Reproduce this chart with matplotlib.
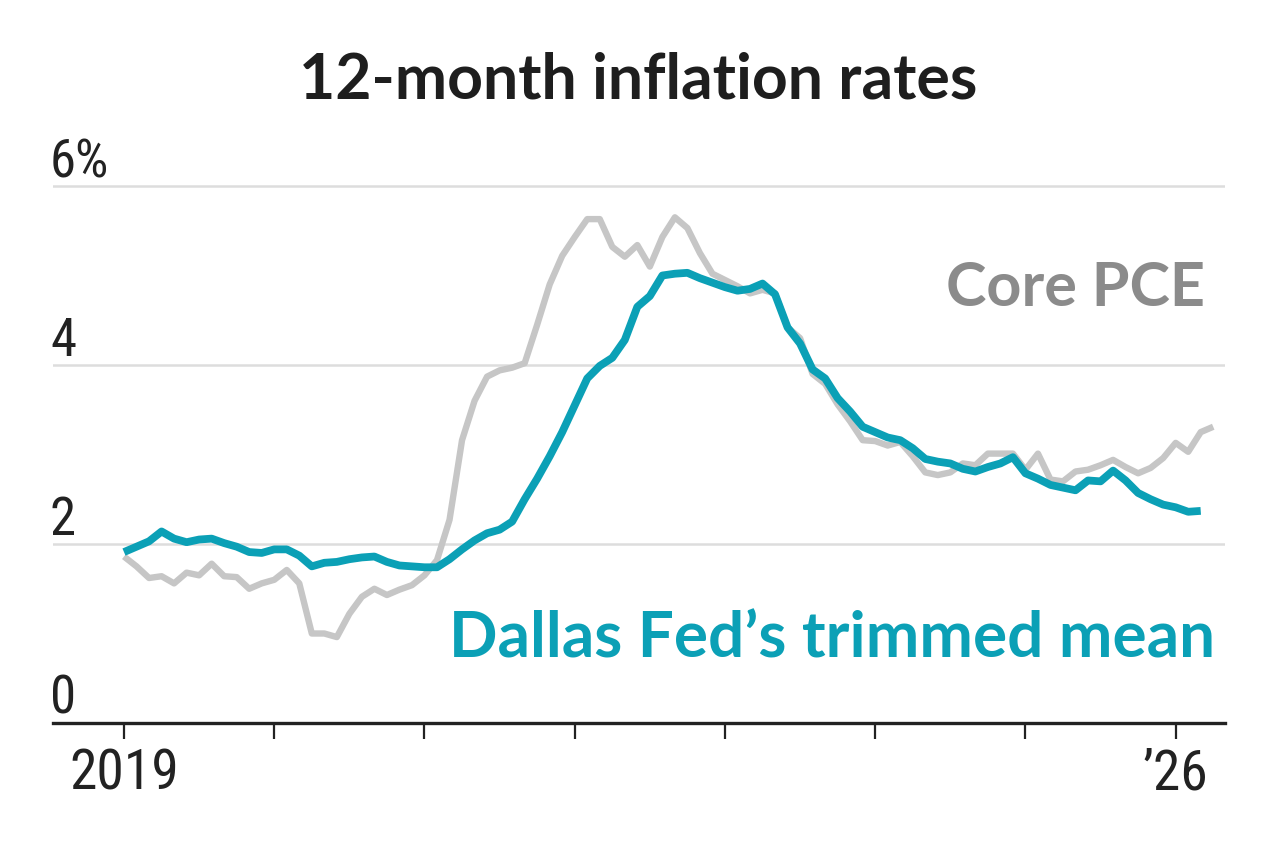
import matplotlib
matplotlib.use('Agg')
import matplotlib.pyplot as plt
from matplotlib import font_manager as fm
from matplotlib.transforms import blended_transform_factory, ScaledTranslation

# ---------------- data (monthly, Jan 2019 onward) ----------------
core_pce = [1.86, 1.75, 1.62, 1.64, 1.56, 1.68, 1.65, 1.78, 1.64, 1.63, 1.50, 1.56,
            1.60, 1.71, 1.56, 1.00, 1.00, 0.96, 1.22, 1.41, 1.50, 1.43, 1.49, 1.54,
            1.65, 1.82, 2.27, 3.16, 3.60, 3.87, 3.94, 3.97, 4.02, 4.45, 4.90, 5.22,
            5.43, 5.63, 5.63, 5.32, 5.21, 5.34, 5.10, 5.43, 5.65, 5.53, 5.25, 5.02,
            4.95, 4.88, 4.80, 4.84, 4.80, 4.42, 4.30, 3.90, 3.79, 3.56, 3.37, 3.16,
            3.15, 3.10, 3.14, 2.98, 2.80, 2.77, 2.80, 2.90, 2.88, 3.01, 3.01, 3.01,
            2.83, 3.01, 2.72, 2.70, 2.81, 2.83, 2.88, 2.94, 2.86, 2.79, 2.85, 2.96,
            3.13, 3.03, 3.25, 3.31]
trimmed_mean = [1.91, 1.97, 2.03, 2.14, 2.06, 2.02, 2.05, 2.06, 2.01, 1.97, 1.91, 1.90,
                1.94, 1.94, 1.87, 1.75, 1.79, 1.80, 1.83, 1.85, 1.86, 1.80, 1.76, 1.75,
                1.74, 1.74, 1.83, 1.94, 2.04, 2.12, 2.16, 2.25, 2.50, 2.73, 2.98, 3.25,
                3.55, 3.85, 3.99, 4.08, 4.28, 4.65, 4.77, 5.00, 5.02, 5.03, 4.97, 4.92,
                4.87, 4.83, 4.85, 4.91, 4.79, 4.42, 4.24, 3.95, 3.85, 3.63, 3.48, 3.31,
                3.25, 3.19, 3.16, 3.07, 2.95, 2.92, 2.90, 2.84, 2.81, 2.86, 2.90, 2.97,
                2.79, 2.73, 2.66, 2.63, 2.60, 2.71, 2.70, 2.82, 2.71, 2.57, 2.50, 2.44,
                2.41, 2.36, 2.37]
x_tick_months = [0, 12, 24, 36, 48, 60, 72, 84]
x_tick_labels = ['2019', '', '', '', '', '', '', '\u201926']
y_ticks = [0, 2, 4, 6]
y_tick_labels = ['0', '2', '4', '6%']

TEAL = '#0ba0b6'
GRAY_LINE = '#c6c6c6'
GRAY_TEXT = '#8b8b8b'
DARK = '#222222'


def first_font(cands):
    for fam, weight, stretch, must in cands:
        try:
            path = fm.findfont(fm.FontProperties(family=fam, weight=weight, stretch=stretch),
                               fallback_to_default=False)
        except Exception:
            continue
        if must and must.lower() not in path.lower():
            continue
        return fm.FontProperties(family=fam, weight=weight, stretch=stretch)
    return fm.FontProperties(family='DejaVu Sans')


narrow = first_font([
    ('Liberation Sans Narrow', 'normal', 'condensed', 'narrow'),
    ('Roboto Condensed', 'normal', 'condensed', 'condensed'),
    ('DejaVu Sans', 'normal', 'condensed', 'condensed'),
    ('Roboto', 'light', 'normal', 'light'),
    ('Roboto', 'normal', 'normal', None),
])
bold = first_font([
    ('Lato', 'bold', 'normal', None),
    ('Roboto', 'bold', 'normal', None),
])

W, H = 1280, 855
fig = plt.figure(figsize=(W / 100, H / 100), dpi=100)
fig.patch.set_facecolor('white')

left_px, right_px, bottom_px, top_px = 53, 1225, 723, 180
ax = fig.add_axes([left_px / W, 1 - bottom_px / H, (right_px - left_px) / W, (bottom_px - top_px) / H])
ax.set_facecolor('white')

months = list(range(len(core_pce)))
months_tm = list(range(len(trimmed_mean)))

ax.plot(months, core_pce, color=GRAY_LINE, lw=4.6, solid_joinstyle='round',
        solid_capstyle='butt', zorder=3)
ax.plot(months_tm, trimmed_mean, color=TEAL, lw=5.6, solid_joinstyle='round',
        solid_capstyle='butt', zorder=4)

px_per_month = 12.52
ax.set_xlim((left_px - 124) / px_per_month, (right_px - 124) / px_per_month)
ax.set_ylim(0, (bottom_px - top_px) / 89.5)

ax.set_yticks(y_ticks)
ax.tick_params(axis='y', length=0, labelleft=False)
ax.grid(axis='y', color='#dddddd', lw=1.8, zorder=1)
ax.grid(axis='x', visible=False)

ax.set_xticks(x_tick_months)
ax.set_xticklabels(x_tick_labels)
ax.tick_params(axis='x', direction='out', length=11.5, width=1.6, color=DARK,
               pad=6.5, labelcolor=DARK)
for lab in ax.get_xticklabels():
    lab.set_fontproperties(narrow)
    lab.set_fontsize(40)

for s in ['top', 'left', 'right']:
    ax.spines[s].set_visible(False)
ax.spines['bottom'].set_color(DARK)
ax.spines['bottom'].set_linewidth(2.4)
ax.spines['bottom'].set_zorder(5)

ytrans = blended_transform_factory(ax.transAxes, ax.transData) + \
    ScaledTranslation(-3 / 100, 9 / 100, fig.dpi_scale_trans)
for v, lab in zip(y_ticks, y_tick_labels):
    ax.text(0, v, lab, transform=ytrans, ha='left', va='baseline', fontproperties=narrow,
            fontsize=38, color=DARK)

fig.text(638 / W, 1 - 98 / H, '12-month inflation rates', ha='center', va='baseline',
         fontproperties=bold, fontsize=45, color='#1e1e1e')
fig.text(1205 / W, 1 - 306 / H, 'Core PCE', ha='right', va='baseline',
         fontproperties=bold, fontsize=44, color=GRAY_TEXT)
fig.text(1215 / W, 1 - 657 / H, 'Dallas Fed\u2019s trimmed mean', ha='right', va='baseline',
         fontproperties=bold, fontsize=46, color=TEAL)

fig.savefig('out.png', dpi=100, facecolor='white')
